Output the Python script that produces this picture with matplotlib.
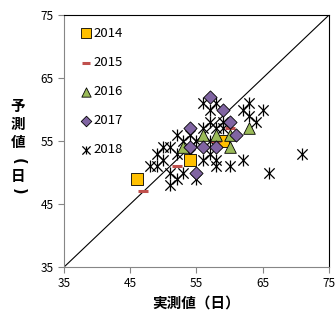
import matplotlib
matplotlib.use("Agg")
import matplotlib.pyplot as plt

plt.rcParams['font.family'] = ['Noto Sans CJK JP', 'DejaVu Sans']

# --- Data (実測値, 予測値) ---
x2014 = [46, 54, 59]
y2014 = [49, 52, 55]

x2015 = [47, 52, 58, 60]
y2015 = [47, 51, 55, 57]

x2016 = [63, 56, 58, 60, 53, 60]
y2016 = [57, 56, 56, 54, 54, 56]

x2017 = [57, 59, 54, 60, 61, 58, 56, 54, 55]
y2017 = [62, 60, 57, 58, 56, 54, 54, 54, 50]

x2018 = [56, 58, 63, 57, 59, 62, 63, 65, 64, 52, 50, 49, 49, 51, 53, 55, 57,
         58, 59, 57, 58, 58, 60, 62, 51, 52, 51, 53, 55, 71, 66, 54, 56, 50,
         48, 52, 54, 56, 57]
y2018 = [61, 61, 61, 60, 58, 60, 59, 60, 58, 56, 54, 53, 51, 54, 55, 55, 55,
         57, 57, 53, 52, 51, 51, 52, 50, 49, 48, 50, 49, 53, 50, 53, 52, 52,
         51, 53, 56, 57, 58]

fig = plt.figure(figsize=(3.36, 3.21), dpi=100)
ax = fig.add_axes([0.1905, 0.168, 0.7885, 0.785])

# diagonal y = x
ax.plot([35, 75], [35, 75], color='black', linewidth=0.8, zorder=1)

h18a = ax.scatter(x2018, y2018, marker='x', s=55, color='black', linewidths=0.9, zorder=2)
h18b = ax.scatter(x2018, y2018, marker='|', s=65, color='black', linewidths=0.9, zorder=2)
h14 = ax.scatter(x2014, y2014, marker='s', s=70, color='#FFC000', edgecolors='black',
                 linewidths=0.6, zorder=3)
h15 = ax.scatter(x2015, y2015, marker='_', s=60, color='#C0504D', linewidths=2.2, zorder=3)
h16 = ax.scatter(x2016, y2016, marker='^', s=70, color='#9BBB59', edgecolors='black',
                 linewidths=0.6, zorder=3)
h17 = ax.scatter(x2017, y2017, marker='D', s=45, color='#8064A2', edgecolors='black',
                 linewidths=0.6, zorder=4)

ax.legend([h14, h15, h16, h17, (h18a, h18b)], ['2014', '2015', '2016', '2017', '2018'],
          loc='upper left', frameon=False, fontsize=9.5, handletextpad=0.15,
          labelspacing=1.22, handlelength=0.9, markerscale=0.8,
          bbox_to_anchor=(0.015, 1.0))

ax.set_xlim(35, 75)
ax.set_ylim(35, 75)
ax.set_xticks([35, 45, 55, 65, 75])
ax.set_yticks([35, 45, 55, 65, 75])
ax.tick_params(labelsize=8.5, direction='out', length=4, width=0.8, color='#868686')
for s in ['left', 'bottom']:
    ax.spines[s].set_color('#868686')
for s in ['top', 'right']:
    ax.spines[s].set_color('black')

ax.set_xlabel('実測値（日）', fontsize=10.5, fontweight='bold', labelpad=3)

# vertical y label, characters stacked
ylab_x = 18 / 336
fig.text(ylab_x, 1 - 124 / 321, '予\n測\n値', fontsize=10.5, fontweight='bold',
         ha='center', va='center', linespacing=1.15)
fig.text(ylab_x, 1 - 161 / 321, '(', fontsize=10.5, fontweight='bold',
         ha='center', va='center', rotation=-90, family='DejaVu Sans')
fig.text(ylab_x, 1 - 176 / 321, '日', fontsize=10.5, fontweight='bold',
         ha='center', va='center')
fig.text(ylab_x, 1 - 191 / 321, ')', fontsize=10.5, fontweight='bold',
         ha='center', va='center', rotation=-90, family='DejaVu Sans')

fig.savefig('out.png', dpi=100)
